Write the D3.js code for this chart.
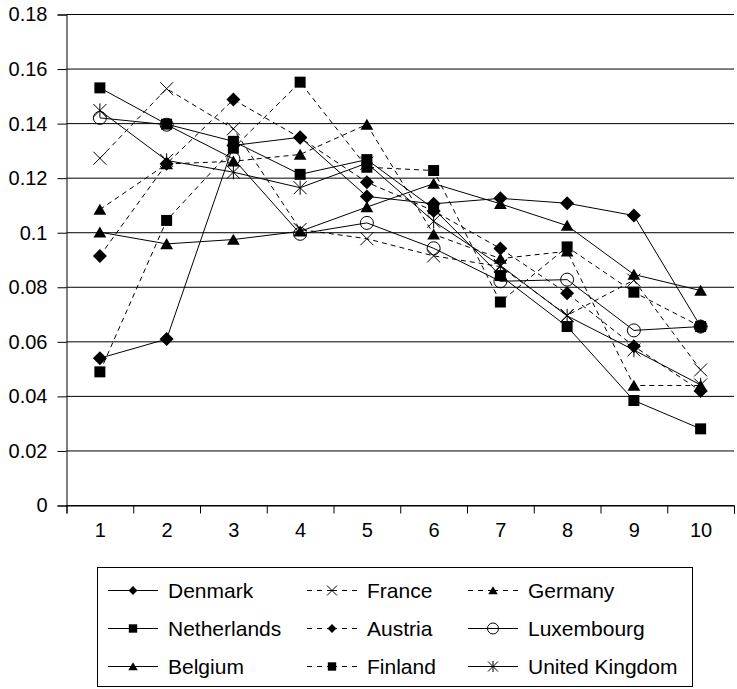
<!DOCTYPE html>
<html>
<head>
<meta charset="utf-8">
<script src="https://cdn.jsdelivr.net/npm/d3@7"></script>
<style>
  html, body { margin: 0; padding: 0; background: #fff; }
  svg { display: block; font-family: "Liberation Sans", Arial, sans-serif; }
</style>
</head>
<body>
<svg id="chart" width="737" height="689"></svg>
<script>
// Category positions along the x axis
const categories = [1, 2, 3, 4, 5, 6, 7, 8, 9, 10];

// Series values per country
const denmark     = [0.054, 0.061, 0.132, 0.135, 0.1133, 0.1106, 0.1126, 0.1108, 0.1063, 0.0656];
const france      = [0.1273, 0.1528, 0.1381, 0.1012, 0.0978, 0.0915, 0.0876, 0.0697, 0.0826, 0.0497];
const germany     = [0.1085, 0.1252, 0.1262, 0.1287, 0.1397, 0.0994, 0.0905, 0.0932, 0.044, 0.044];
const netherlands = [0.1531, 0.1398, 0.1335, 0.1214, 0.1268, 0.1088, 0.0843, 0.0656, 0.0385, 0.0281];
const austria     = [0.0915, 0.1253, 0.1488, 0.1348, 0.1185, 0.108, 0.0942, 0.0778, 0.0584, 0.042];
const luxembourg  = [0.1421, 0.1396, 0.1271, 0.0996, 0.1036, 0.0943, 0.0822, 0.0828, 0.0642, 0.0656];
const belgium     = [0.1002, 0.0959, 0.0975, 0.1005, 0.1094, 0.118, 0.1106, 0.1026, 0.0847, 0.0788];
const finland     = [0.049, 0.1045, 0.131, 0.1552, 0.124, 0.1228, 0.0746, 0.0948, 0.0782, 0.0656];
const unitedKingdom = [0.1448, 0.1265, 0.1222, 0.1165, 0.1255, 0.1042, 0.088, 0.0695, 0.057, 0.0442];

// Y axis ticks and their labels
const yTicks = [0, 0.02, 0.04, 0.06, 0.08, 0.1, 0.12, 0.14, 0.16, 0.18];
const yTickLabels = ["0", "0.02", "0.04", "0.06", "0.08", "0.1", "0.12", "0.14", "0.16", "0.18"];

// Series list in legend order (row by row, three columns)
const series = [
  { name: "Denmark",        values: denmark,       dashed: false, marker: "diamond" },
  { name: "France",         values: france,        dashed: true,  marker: "cross" },
  { name: "Germany",        values: germany,       dashed: true,  marker: "triangle" },
  { name: "Netherlands",    values: netherlands,   dashed: false, marker: "square" },
  { name: "Austria",        values: austria,       dashed: true,  marker: "diamond" },
  { name: "Luxembourg",     values: luxembourg,    dashed: false, marker: "circle" },
  { name: "Belgium",        values: belgium,       dashed: false, marker: "triangle" },
  { name: "Finland",        values: finland,       dashed: true,  marker: "square" },
  { name: "United Kingdom", values: unitedKingdom, dashed: false, marker: "star" }
];

const svg = d3.select("#chart");
const plot = { left: 66.5, right: 734, top: 14.5, bottom: 505.5 };

const x = d3.scaleLinear().domain([0.5, 10.5]).range([plot.left, plot.right]);
const y = d3.scaleLinear().domain([0, 0.18]).range([plot.bottom, plot.top]);

const TICK_FONT = 20;
const LEGEND_FONT = 21;
const DASH = "5,4";

// Horizontal gridlines
svg.append("g")
  .selectAll("line")
  .data(yTicks)
  .join("line")
  .attr("x1", plot.left).attr("x2", plot.right)
  .attr("y1", d => y(d)).attr("y2", d => y(d))
  .attr("stroke", "#000").attr("stroke-width", 1);

// Y axis
const yAxis = svg.append("g")
  .attr("transform", `translate(${plot.left},0)`)
  .call(d3.axisLeft(y).tickValues(yTicks).tickSize(9).tickPadding(10)
    .tickFormat((d, i) => yTickLabels[i]));
yAxis.select(".domain").attr("stroke", "#000");
yAxis.selectAll(".tick line").attr("stroke", "#000");
yAxis.selectAll("text").attr("font-size", TICK_FONT).attr("fill", "#000")
  .attr("font-family", "Liberation Sans, Arial, sans-serif");

// X axis: tick marks between categories
const xAxis = svg.append("g")
  .attr("transform", `translate(0,${plot.bottom})`)
  .call(d3.axisBottom(x).tickValues(d3.range(0.5, 11, 1)).tickSize(8).tickFormat(""));
xAxis.select(".domain").attr("stroke", "#000");
xAxis.selectAll(".tick line").attr("stroke", "#000");

// X axis: category labels
const xLabels = svg.append("g")
  .attr("transform", `translate(0,${plot.bottom})`)
  .call(d3.axisBottom(x).tickValues(categories).tickSize(0).tickPadding(17));
xLabels.select(".domain").remove();
xLabels.selectAll("text").attr("font-size", TICK_FONT).attr("fill", "#000")
  .attr("font-family", "Liberation Sans, Arial, sans-serif");

// Marker shapes
function markerPath(type, s) {
  switch (type) {
    case "diamond":  return `M0,${-s}L${s},0L0,${s}L${-s},0Z`;
    case "square":   return `M${-s},${-s}H${s}V${s}H${-s}Z`;
    case "triangle": return `M0,${-s}L${s * 1.1},${s * 0.9}L${-s * 1.1},${s * 0.9}Z`;
    case "cross":    return `M${-s},${-s}L${s},${s}M${-s},${s}L${s},${-s}`;
    case "star":     return `M${-s},${-s}L${s},${s}M${-s},${s}L${s},${-s}M0,${-s * 1.1}V${s * 1.1}`;
    default:         return "";
  }
}
const chartMarkerSize  = { diamond: 7, square: 5.5, triangle: 5.8, cross: 6.5, star: 6.5, circle: 6.5 };
const legendMarkerSize = { diamond: 4.4, square: 4.2, triangle: 4.3, cross: 5, star: 5, circle: 5.5 };

function drawMarker(g, type, cx, cy, size) {
  if (type === "circle") {
    g.append("circle").attr("cx", cx).attr("cy", cy).attr("r", size)
      .attr("fill", "none").attr("stroke", "#000").attr("stroke-width", 1);
  } else if (type === "cross" || type === "star") {
    g.append("path").attr("transform", `translate(${cx},${cy})`)
      .attr("d", markerPath(type, size))
      .attr("fill", "none").attr("stroke", "#000").attr("stroke-width", 1);
  } else {
    g.append("path").attr("transform", `translate(${cx},${cy})`)
      .attr("d", markerPath(type, size))
      .attr("fill", "#000").attr("stroke", "none");
  }
}

// Lines and markers
const line = d3.line().x((d, i) => x(categories[i])).y(d => y(d));
const seriesG = svg.append("g");
series.forEach(s => {
  const g = seriesG.append("g");
  g.append("path")
    .attr("d", line(s.values))
    .attr("fill", "none").attr("stroke", "#000").attr("stroke-width", 1)
    .attr("stroke-dasharray", s.dashed ? DASH : null);
  s.values.forEach((v, i) =>
    drawMarker(g, s.marker, x(categories[i]), y(v), chartMarkerSize[s.marker]));
});

// Legend
const legendBox = { x: 97.5, y: 567.5, w: 595, h: 119 };
const legend = svg.append("g");
legend.append("rect")
  .attr("x", legendBox.x).attr("y", legendBox.y)
  .attr("width", legendBox.w).attr("height", legendBox.h)
  .attr("fill", "#fff").attr("stroke", "#000").attr("stroke-width", 1);

const colSymbolStart = [108, 307, 468];
const rowCenters = [590.5, 628.5, 666.5];
const symLen = 50;

series.forEach((s, i) => {
  const col = i % 3, row = Math.floor(i / 3);
  const x0 = colSymbolStart[col], cy = rowCenters[row];
  const xm = x0 + symLen / 2;
  const g = legend.append("g");
  // two half segments so dashes sit symmetrically around the marker
  [[x0, xm], [x0 + symLen, xm]].forEach(([a, b]) => {
    g.append("line")
      .attr("x1", a).attr("x2", b).attr("y1", cy).attr("y2", cy)
      .attr("stroke", "#000").attr("stroke-width", 1)
      .attr("stroke-dasharray", s.dashed ? "5,5" : null);
  });
  drawMarker(g, s.marker, xm, cy, legendMarkerSize[s.marker]);
  g.append("text")
    .attr("x", x0 + symLen + 10).attr("y", cy)
    .attr("dy", "0.36em")
    .attr("font-size", LEGEND_FONT)
    .attr("fill", "#000")
    .text(s.name);
});
</script>
</body>
</html>
